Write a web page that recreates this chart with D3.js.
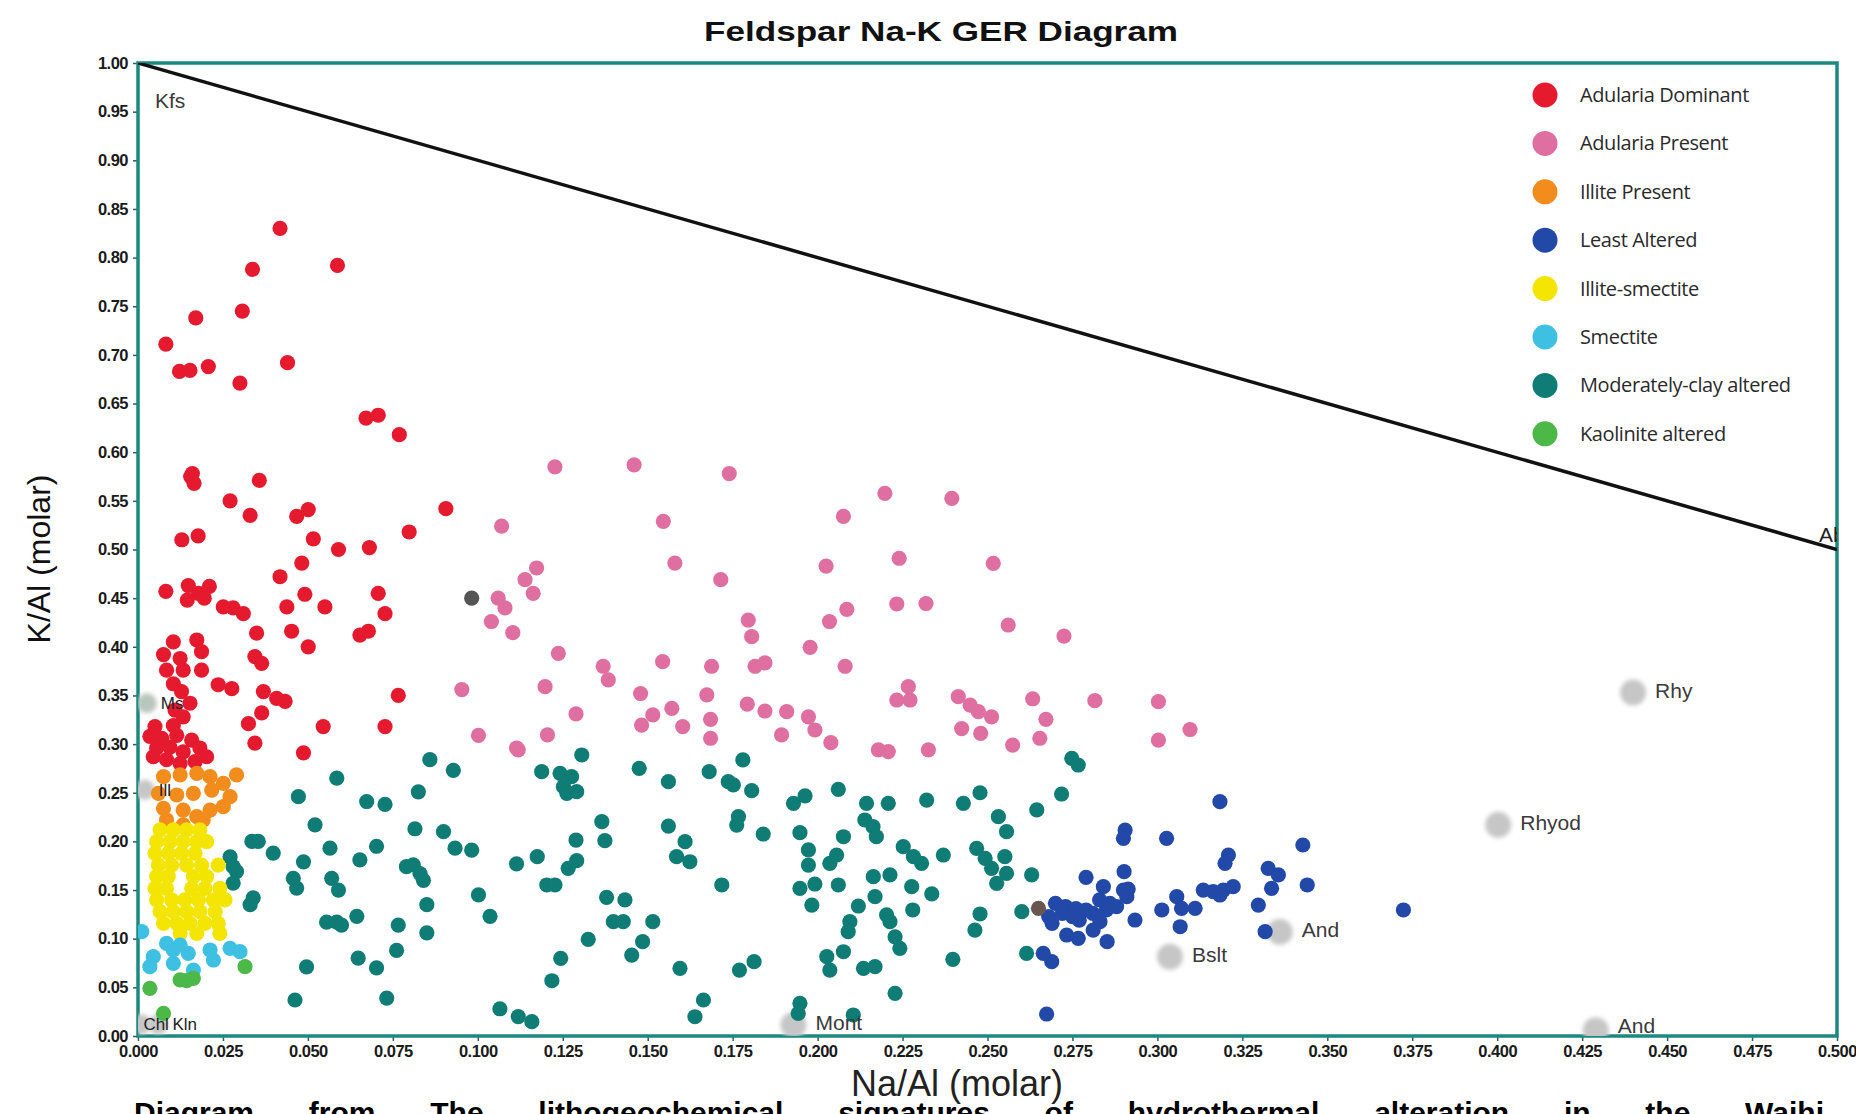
<!DOCTYPE html>
<html><head><meta charset="utf-8">
<script src="https://cdn.jsdelivr.net/npm/d3@7"></script>
<style>body{margin:0;background:#fff;}svg{display:block;}</style>
</head><body>
<svg id="chart" width="1856" height="1114"></svg>
<script>
// ---------------- DATA ----------------
const xTicks = [0.000,0.025,0.050,0.075,0.100,0.125,0.150,0.175,0.200,0.225,0.250,0.275,0.300,0.325,0.350,0.375,0.400,0.425,0.450,0.475,0.500];
const yTicks = [0.00,0.05,0.10,0.15,0.20,0.25,0.30,0.35,0.40,0.45,0.50,0.55,0.60,0.65,0.70,0.75,0.80,0.85,0.90,0.95,1.00];

const seriesNames = ["Adularia Dominant","Adularia Present","Illite Present","Least Altered","Illite-smectite","Smectite","Moderately-clay altered","Kaolinite altered"];
const seriesColors = ["#e51a2e","#df6fa0","#f28c1c","#2248a8","#f3e500","#3ec0e2","#0f7c76","#4cb847"];

const adulariaDominant = [
[0.0418,0.830],[0.0587,0.792],[0.0337,0.788],[0.0307,0.745],[0.0170,0.738],[0.0082,0.711],
[0.0122,0.683],[0.0153,0.684],[0.0207,0.688],[0.0440,0.692],[0.0300,0.671],
[0.0671,0.635],[0.0707,0.638],[0.0769,0.618],
[0.0155,0.575],[0.0165,0.568],[0.0160,0.578],[0.0357,0.571],
[0.0271,0.550],[0.0330,0.535],[0.0467,0.534],[0.0501,0.541],[0.0906,0.542],[0.0798,0.518],
[0.0129,0.510],[0.0177,0.514],[0.0516,0.511],[0.0590,0.500],[0.0681,0.502],
[0.0482,0.486],[0.0418,0.472],[0.0082,0.457],
[0.0148,0.463],[0.0178,0.455],[0.0210,0.462],[0.0145,0.448],[0.0195,0.450],
[0.0251,0.441],[0.0280,0.440],[0.0310,0.434],
[0.0491,0.454],[0.0438,0.441],[0.0550,0.441],[0.0707,0.455],[0.0727,0.434],
[0.0349,0.414],[0.0452,0.416],[0.0501,0.400],[0.0653,0.412],[0.0678,0.416],
[0.0344,0.390],[0.0364,0.383],[0.0369,0.354],[0.0408,0.347],[0.0433,0.344],[0.0364,0.332],[0.0325,0.321],[0.0344,0.301],
[0.0545,0.318],[0.0487,0.291],[0.0727,0.318],[0.0766,0.350],
[0.0104,0.405],[0.0173,0.407],[0.0075,0.392],[0.0124,0.388],[0.0187,0.395],[0.0084,0.376],[0.0133,0.376],[0.0187,0.376],
[0.0104,0.362],[0.0128,0.354],[0.0236,0.361],[0.0276,0.357],[0.0153,0.342],[0.0109,0.335],[0.0133,0.328],
[0.0050,0.318],[0.0104,0.319],[0.0035,0.308],[0.0070,0.306],[0.0114,0.309],[0.0158,0.304],
[0.0055,0.296],[0.0094,0.297],[0.0133,0.292],[0.0182,0.296],[0.0202,0.287],[0.0168,0.282],[0.0084,0.284],[0.0124,0.280],[0.0045,0.287]
];

const adulariaPresent = [
[0.107,0.524],[0.0953,0.356],[0.1002,0.309],[0.1114,0.296],[0.104,0.426],
[0.1227,0.585],[0.146,0.587],[0.174,0.578],[0.1546,0.529],[0.2076,0.534],
[0.1173,0.481],[0.1139,0.469],[0.1163,0.455],[0.158,0.486],[0.1715,0.469],[0.2025,0.483],
[0.106,0.450],[0.108,0.440],[0.1103,0.4145],
[0.2086,0.4385],[0.2035,0.426],[0.1796,0.4275],[0.1806,0.4104],[0.1978,0.3995],
[0.1237,0.3933],[0.1369,0.380],[0.1384,0.366],[0.1544,0.3847],[0.1688,0.380],[0.1816,0.380],[0.1845,0.3835],[0.2081,0.380],
[0.1198,0.359],[0.1479,0.352],[0.1674,0.3505],
[0.1289,0.331],[0.1515,0.330],[0.1482,0.3196],[0.1571,0.3368],[0.1603,0.318],[0.1685,0.3255],[0.1685,0.306],
[0.1793,0.341],[0.1845,0.334],[0.1909,0.3333],[0.1973,0.328],[0.1992,0.3145],[0.1894,0.3094],[0.2039,0.3015],[0.1205,0.3094],[0.1119,0.294],
[0.2198,0.5577],[0.2395,0.5526],[0.2240,0.491],[0.2517,0.4858],[0.2233,0.444],[0.2319,0.4445],[0.2561,0.4224],[0.2725,0.411],
[0.2233,0.3453],[0.2267,0.359],[0.2272,0.3453],[0.2414,0.3487],[0.2449,0.340],[0.2473,0.3333],[0.2512,0.328],
[0.2633,0.3466],[0.2816,0.3446],[0.3003,0.3436],[0.2672,0.3255],[0.2424,0.316],[0.248,0.311],[0.2574,0.299],[0.2654,0.306],
[0.3096,0.315],[0.3003,0.304],[0.2179,0.294],[0.2208,0.2923],[0.2326,0.294]
];

const illitePresent = [
[0.0075,0.2665],[0.0124,0.2683],[0.0173,0.270],[0.0212,0.2665],[0.0251,0.2597],[0.0290,0.2683],
[0.0217,0.2528],[0.0271,0.246],[0.0060,0.2494],[0.0114,0.2477],[0.0163,0.2494],
[0.0251,0.2357],[0.0212,0.2322],[0.0075,0.2339],[0.0133,0.2322],[0.0173,0.2254],
[0.0084,0.222],[0.0133,0.2169],[0.0192,0.222]
];

const leastAltered = [
[0.3184,0.2408],[0.2905,0.2117],[0.2900,0.2032],[0.3027,0.2032],[0.3209,0.186],[0.3199,0.1775],
[0.2790,0.1631],[0.2902,0.1689],[0.2841,0.1535],[0.2900,0.150],[0.2914,0.151],
[0.2700,0.1364],[0.2730,0.1330],[0.2760,0.1310],[0.2790,0.1295],[0.2680,0.1227],[0.2720,0.1260],[0.2750,0.1227],
[0.2690,0.1158],[0.2770,0.1190],[0.2830,0.1400],[0.2860,0.1364],[0.2880,0.1330],[0.2850,0.1295],[0.2910,0.1432],[0.2810,0.1260],
[0.2934,0.1192],[0.2831,0.1175],[0.2811,0.1089],[0.2733,0.1038],[0.2767,0.1004],[0.2852,0.0969],
[0.2664,0.085],[0.2689,0.0764],[0.2674,0.0226],
[0.3013,0.1295],[0.3057,0.1432],[0.3071,0.1312],[0.3067,0.1123],[0.3111,0.1312],
[0.3135,0.150],[0.3164,0.1484],[0.3194,0.150],[0.3223,0.1535],[0.3184,0.1449],
[0.3428,0.1963],[0.3326,0.1723],[0.3356,0.1655],[0.3336,0.1518],[0.3441,0.1552],[0.3297,0.1346],[0.3317,0.1072],[0.3724,0.1295]
];

const illiteSmectite = [
[0.0065,0.2118],[0.0104,0.2118],[0.0143,0.2118],[0.0182,0.2118],
[0.0055,0.1997],[0.0094,0.1997],[0.0133,0.1997],[0.0173,0.1997],[0.0202,0.1997],
[0.0050,0.1878],[0.0089,0.1878],[0.0128,0.1878],[0.0168,0.1878],
[0.0060,0.1757],[0.0099,0.1757],[0.0143,0.1757],[0.0187,0.1757],[0.0236,0.1757],
[0.0055,0.1638],[0.0089,0.1638],[0.0163,0.1638],[0.0202,0.1638],
[0.0050,0.1518],[0.0084,0.1518],[0.0158,0.1518],[0.0197,0.1518],[0.0241,0.1518],
[0.0055,0.1398],[0.0099,0.1398],[0.0138,0.1398],[0.0178,0.1398],[0.0222,0.1398],[0.0256,0.1398],
[0.0065,0.1278],[0.0104,0.1278],[0.0143,0.1278],[0.0182,0.1278],[0.0227,0.1278],
[0.0075,0.1158],[0.0114,0.1158],[0.0153,0.1158],[0.0197,0.1158],[0.0236,0.1158],
[0.0124,0.1055],[0.0173,0.1055],[0.0241,0.1055]
];

const smectite = [
[0.0011,0.1072],[0.0045,0.0815],[0.0035,0.0712],[0.0084,0.0952],[0.0104,0.0884],[0.0124,0.0935],
[0.0104,0.0747],[0.0148,0.0850],[0.0163,0.0678],[0.0212,0.0884],[0.0222,0.0781],[0.0271,0.0901],[0.0300,0.0867]
];

const moderatelyClay = [
[0.0585,0.265],[0.0472,0.246],[0.0673,0.241],[0.0727,0.238],[0.0825,0.251],[0.0859,0.284],[0.0928,0.273],
[0.0521,0.217],[0.0815,0.213],[0.0899,0.210],[0.0933,0.193],[0.0982,0.191],
[0.0335,0.200],[0.0354,0.200],[0.0398,0.188],[0.0565,0.193],[0.0702,0.195],[0.0653,0.181],[0.0487,0.179],
[0.0271,0.184],[0.0280,0.174],[0.0290,0.169],[0.0280,0.157],
[0.0457,0.162],[0.0467,0.152],[0.0570,0.162],[0.0590,0.150],
[0.0790,0.174],[0.0810,0.176],[0.0830,0.167],[0.0840,0.160],
[0.1114,0.177],[0.1002,0.145],[0.0339,0.142],[0.0330,0.135],[0.0850,0.135],[0.1036,0.123],
[0.0555,0.117],[0.0585,0.117],[0.0599,0.114],[0.0644,0.123],[0.0766,0.114],[0.0850,0.106],
[0.0761,0.088],[0.0648,0.080],[0.0702,0.070],[0.0496,0.071],[0.0462,0.037],[0.0732,0.039],
[0.1065,0.028],[0.1119,0.020],
[0.1306,0.2888],[0.1188,0.2717],[0.1242,0.270],[0.1276,0.2665],[0.1252,0.2562],[0.1291,0.2511],[0.1262,0.2494],
[0.1475,0.2751],[0.1561,0.2614],[0.1681,0.2717],[0.1737,0.2614],[0.1752,0.2580],[0.1780,0.2837],[0.1806,0.2521],
[0.1929,0.2391],[0.1963,0.2467],[0.2061,0.2535],[0.2144,0.2391],[0.2139,0.222],[0.2163,0.2151],[0.2173,0.2048],
[0.1365,0.2203],[0.1374,0.2007],[0.1289,0.2014],[0.1561,0.2158],[0.1610,0.1997],[0.1585,0.1843],[0.1624,0.1791],
[0.1767,0.2254],[0.1762,0.2168],[0.1840,0.2076],[0.1948,0.209],[0.2076,0.2048],
[0.1973,0.1912],[0.1973,0.1757],[0.2056,0.186],[0.2036,0.1775],
[0.1175,0.1843],[0.1291,0.1802],[0.1266,0.1723],[0.1203,0.1552],[0.1227,0.1552],
[0.1718,0.1552],[0.1948,0.1518],[0.1992,0.1562],[0.2061,0.1552],[0.1983,0.1346],
[0.2164,0.1637],[0.2169,0.1432],[0.2120,0.1336],[0.2095,0.1175],[0.2090,0.1072],[0.2076,0.0866],[0.2027,0.0815],[0.2036,0.0678],
[0.2135,0.0696],[0.2169,0.0712],
[0.1379,0.1425],[0.1433,0.1398],[0.1399,0.1175],[0.1428,0.1175],[0.1515,0.1175],[0.1485,0.0969],[0.1453,0.0832],
[0.1325,0.0994],[0.1244,0.0798],[0.1218,0.0568],[0.1595,0.0696],[0.1770,0.0678],[0.1813,0.0764],
[0.1664,0.037],[0.1639,0.0198],[0.1948,0.0336],[0.1943,0.0233],[0.2105,0.0216],[0.1159,0.0147],
[0.2748,0.2854],[0.2767,0.2785],[0.2718,0.2487],[0.2208,0.2391],[0.2321,0.2425],[0.2429,0.2391],[0.2478,0.250],[0.2645,0.2323],
[0.2532,0.2254],[0.2556,0.210],
[0.2252,0.1946],[0.2282,0.1843],[0.2306,0.1775],[0.2370,0.186],
[0.2468,0.1929],[0.2493,0.1826],[0.2512,0.1723],[0.2527,0.1569],[0.2551,0.1843],[0.2556,0.1672],
[0.2630,0.1655],[0.2213,0.1655],[0.2277,0.1535],[0.2336,0.146],
[0.2203,0.1244],[0.2213,0.1175],[0.2228,0.102],[0.2242,0.0901],[0.2280,0.1295],
[0.2478,0.1254],[0.2463,0.1089],[0.2601,0.1278],[0.2615,0.085],[0.2398,0.0788],[0.2228,0.0439]
];

const kaoliniteAltered = [
[0.0035,0.049],[0.0124,0.0576],[0.0143,0.0570],[0.0163,0.0593],[0.0315,0.0712],[0.0075,0.0233]
];

const unclassified = [[0.0982,0.450],[0.2650,0.1312]];

const refNames = ["Rhy","Rhyod","And","Bslt","And","Mont","Ms","Ill","Chl","Kln"];
const refX = [0.440,0.4003,0.336,0.3037,0.429,0.1929,0.0026,0.002,0.001,0.006];
const refY = [0.353,0.217,0.107,0.0815,0.006,0.0113,0.342,0.253,0.012,0.012];

const endMemberNames = ["Kfs","Ab"];
const endMemberX = [0.0,0.5];
const endMemberY = [1.0,0.5];

// ---------------- CHART ----------------
const svg = d3.select("#chart");
const W = 1856, H = 1114;
const m = {left:138, right:1837, top:63, bottom:1036};
const x = d3.scaleLinear().domain([0,0.5]).range([m.left,m.right]);
const y = d3.scaleLinear().domain([0,1]).range([m.bottom,m.top]);
const teal = "#1b897f";

svg.append("rect").attr("width",W).attr("height",H).attr("fill","#fff");

const defs = svg.append("defs");
defs.append("clipPath").attr("id","plotclip").append("rect")
  .attr("x",m.left).attr("y",m.top).attr("width",m.right-m.left).attr("height",m.bottom-m.top);
defs.append("filter").attr("id","blur").attr("x","-50%").attr("y","-50%").attr("width","200%").attr("height","200%")
  .append("feGaussianBlur").attr("stdDeviation",2.2);

// title
svg.append("text").attr("x",941).attr("y",41).attr("text-anchor","middle")
  .attr("font-family","Liberation Sans, Arial, sans-serif").attr("font-weight","bold")
  .attr("font-size",28).attr("textLength",474).attr("lengthAdjust","spacingAndGlyphs")
  .attr("fill","#111").text("Feldspar Na-K GER Diagram");

// axes
const yAxis = d3.axisLeft(y).tickValues(yTicks).tickFormat(d3.format(".2f")).tickSize(5).tickPadding(5);
const xAxis = d3.axisBottom(x).tickValues(xTicks).tickFormat(d3.format(".3f")).tickSize(5).tickPadding(4);
const gy = svg.append("g").attr("transform",`translate(${m.left},0)`).call(yAxis);
const gx = svg.append("g").attr("transform",`translate(0,${m.bottom})`).call(xAxis);
[gx,gy].forEach(g=>{
  g.select(".domain").remove();
  g.selectAll(".tick line").attr("stroke","#2a5f5a").attr("stroke-width",1.5);
  g.selectAll(".tick text").attr("font-family","Liberation Sans, Arial, sans-serif")
    .attr("font-size",16.5).attr("font-weight","bold").attr("fill","#1a1a1a").attr("letter-spacing","-0.5");
});

// frame
svg.append("rect").attr("x",m.left).attr("y",m.top).attr("width",m.right-m.left).attr("height",m.bottom-m.top)
  .attr("fill","none").attr("stroke",teal).attr("stroke-width",3.5);

const plot = svg.append("g").attr("clip-path","url(#plotclip)");

// Kfs - Ab line
plot.append("line").attr("x1",x(endMemberX[0])).attr("y1",y(endMemberY[0]))
  .attr("x2",x(endMemberX[1])).attr("y2",y(endMemberY[1]))
  .attr("stroke","#111").attr("stroke-width",3.5);

// reference minerals
const refs = refNames.map((n,i)=>({name:n,x:refX[i],y:refY[i],small:i>=6}));
plot.append("g").selectAll("circle").data(refs).join("circle")
  .attr("cx",d=>x(d.x)).attr("cy",d=>y(d.y)).attr("r",d=>d.small?10:13)
  .attr("fill",d=>d.name==="Ms"?"#b9c6bd":"#c6c6c6").attr("filter","url(#blur)");

// points
const series = [adulariaDominant,adulariaPresent,illitePresent,leastAltered,illiteSmectite,smectite,moderatelyClay,kaoliniteAltered];
const drawOrder = [6,1,0,2,4,5,7,3];
drawOrder.forEach(i=>{
  plot.append("g").selectAll("circle").data(series[i]).join("circle")
    .attr("cx",d=>x(d[0])).attr("cy",d=>y(d[1])).attr("r",7.6).attr("fill",seriesColors[i]);
});
plot.append("g").selectAll("circle").data(unclassified).join("circle")
  .attr("cx",d=>x(d[0])).attr("cy",d=>y(d[1])).attr("r",7.6).attr("fill",(d,i)=>i?"#6a5650":"#555");

// reference labels
plot.append("g").selectAll("text").data(refs).join("text")
  .attr("x",d=>x(d.x)+(d.small?(d.name==="Chl"?2:14):22))
  .attr("y",d=>Math.min(y(d.y)+(d.small?6:5), m.bottom-3))
  .attr("font-family","Liberation Sans, Arial, sans-serif")
  .attr("font-size",d=>d.small?17:21).attr("fill",d=>d.small?"#222":"#3a3a3a")
  .text(d=>d.name);

// end member labels
plot.append("text").attr("x",x(endMemberX[0])+17).attr("y",y(endMemberY[0])+45)
  .attr("font-family","Liberation Sans, Arial, sans-serif").attr("font-size",21).attr("fill","#3a3a3a").text(endMemberNames[0]);
plot.append("text").attr("x",x(endMemberX[1])-18).attr("y",y(endMemberY[1])-8)
  .attr("font-family","Liberation Sans, Arial, sans-serif").attr("font-size",21).attr("fill","#222").text(endMemberNames[1]);

// legend
const lg = svg.append("g");
seriesNames.forEach((n,i)=>{
  const cy = 95 + i*48.4;
  lg.append("circle").attr("cx",1545).attr("cy",cy).attr("r",12.5).attr("fill",seriesColors[i]);
  lg.append("text").attr("x",1580).attr("y",cy).attr("dy","0.35em")
    .attr("font-family","Open Sans, Noto Sans, sans-serif").attr("font-size",20)
    .attr("letter-spacing","-0.4").attr("fill","#2a2a2a").text(n);
});

// axis titles
svg.append("text").attr("transform","translate(50,559) rotate(-90)").attr("text-anchor","middle")
  .attr("font-family","Liberation Sans, Arial, sans-serif").attr("font-size",32)
  .attr("fill","#111").text("K/Al (molar)");
svg.append("text").attr("x",957).attr("y",1096).attr("text-anchor","middle")
  .attr("font-family","Liberation Sans, Arial, sans-serif").attr("font-size",36)
  .attr("fill","#222").text("Na/Al (molar)");

// caption (partially cut off at bottom of image, as in the source figure)
const cap = svg.append("text").attr("x",134).attr("y",1123)
  .attr("font-family","Liberation Sans, Arial, sans-serif").attr("font-size",30).attr("font-weight","bold")
  .attr("fill","#000").text("Diagram from The lithogeochemical signatures of hydrothermal alteration in the Waihi");
const natural = cap.node().getComputedTextLength();
const spaces = (cap.text().match(/ /g)||[]).length;
cap.attr("word-spacing", Math.max(0,(1690-natural)/spaces));
</script>
</body></html>
